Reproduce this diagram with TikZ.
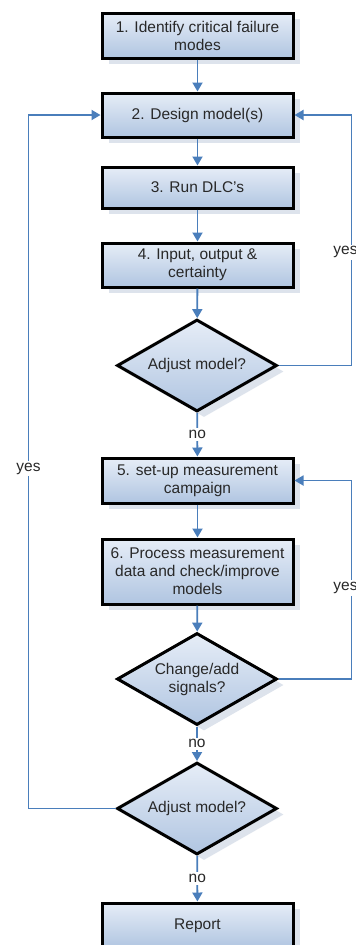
\documentclass[tikz,border=0pt]{standalone}
\usepackage{fontspec}
\setmainfont{Liberation Sans}
\usetikzlibrary{shapes.geometric,arrows.meta,shadows}
\definecolor{lineblue}{RGB}{74,126,187}
\definecolor{filltop}{RGB}{230,237,247}
\definecolor{fillbot}{RGB}{176,197,225}
\definecolor{shadowc}{RGB}{221,227,236}
\definecolor{txt}{RGB}{40,40,40}
\tikzset{
  base/.style={draw=black, line width=3pt, top color=filltop, bottom color=fillbot,
    text=txt, font=\fontsize{15.5}{18}\selectfont, align=center,
    drop shadow={shadow xshift=7pt, shadow yshift=-6pt, fill=shadowc, opacity=1}},
  stepbox/.style={base, rectangle, minimum width=191pt, inner sep=0pt},
  decision/.style={base, diamond, aspect=1.74, minimum width=160pt, minimum height=92pt, inner sep=0pt},
  conn/.style={draw=lineblue, line width=1.8pt, -{Triangle[width=10pt,length=9pt]}},
  lbl/.style={fill=white, text=txt, font=\fontsize{15.5}{18}\selectfont, inner sep=2pt}
}
\begin{document}
\begin{tikzpicture}[x=1pt,y=-1pt]
\clip (0,0) rectangle (356,945);
\fill[white] (0,0) rectangle (356,945);
\node[stepbox, minimum height=45pt] (b1) at (197.5,35.5) {1. Identify critical failure\\modes};
\node[stepbox, minimum height=44pt] (b2) at (197.5,115) {2. Design model(s)};
\node[stepbox, minimum height=41pt] (b3) at (197.5,187.5) {3. Run DLC's};
\node[stepbox, minimum height=44pt] (b4) at (197.5,265) {4. Input, output \&\\certainty};
\node[decision] (d1) at (197,365.5) {Adjust model?};
\node[stepbox, minimum height=45pt] (b5) at (197.5,480.5) {5. set-up measurement\\campaign};
\node[stepbox, minimum height=65pt] (b6) at (197.5,571.5) {6. Process measurement\\data and check/improve\\models};
\node[decision] (d2) at (197,679) {Change/add\\signals?};
\node[decision] (d3) at (197,808.5) {Adjust model?};
\node[stepbox, minimum height=45pt] (rep) at (197.5,925.5) {Report};

\draw[conn] (b1) -- (b2);
\draw[conn] (b2) -- (b3);
\draw[conn] (b3) -- (b4);
\draw[conn] (b4) -- (d1);
\draw[conn] (d1) -- node[lbl] {no} (b5);
\draw[conn] (b5) -- (b6);
\draw[conn] (b6) -- (d2);
\draw[conn] (d2) -- node[lbl] {no} (d3);
\draw[conn] (d3) -- node[lbl] {no} (rep);

\draw[conn] (d1.east) -- ++(73,0) |- node[lbl, pos=0.226, xshift=-6pt] {yes} (b2.east);
\draw[conn] (d2.east) -- ++(73,0) |- node[lbl, pos=0.229, xshift=-6pt] {yes} (b5.east);
\draw[conn] (d3.west) -- ++(-87,0) |- node[lbl, pos=0.245] {yes} (b2.west);
\end{tikzpicture}
\end{document}
